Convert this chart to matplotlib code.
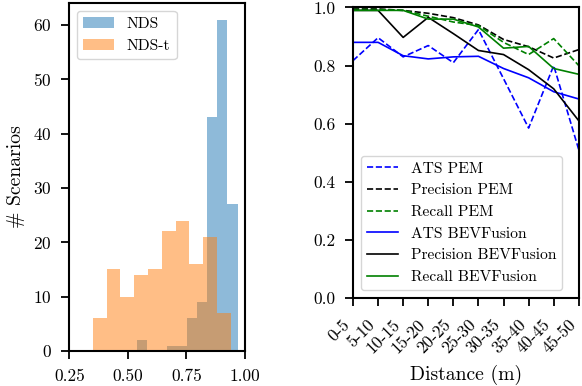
import numpy as np
import matplotlib
matplotlib.use("Agg")
import matplotlib.pyplot as plt

plt.rcParams['font.family'] = 'serif'
plt.rcParams['font.serif'] = ['cmr10']
plt.rcParams['mathtext.fontset'] = 'cm'
plt.rcParams['axes.formatter.use_mathtext'] = True

# ---- histogram data ----
nds_range = (0.537, 0.968)
nds_counts = [2, 0, 0, 1, 1, 6, 9, 43, 61, 27]
ndst_range = (0.350, 0.940)
ndst_counts = [6, 15, 10, 14, 15, 22, 24, 16, 21, 7]

# ---- distance data ----
dist_labels = ["0-5", "5-10", "10-15", "15-20", "20-25", "25-30",
               "30-35", "35-40", "40-45", "45-50"]
ats_pem = [0.817, 0.896, 0.83, 0.869, 0.81, 0.924, 0.755, 0.585, 0.80, 0.51]
prec_pem = [0.995, 0.995, 0.99, 0.98, 0.965, 0.94, 0.89, 0.865, 0.826, 0.855]
rec_pem = [0.993, 0.993, 0.99, 0.97, 0.95, 0.938, 0.88, 0.838, 0.893, 0.80]
ats_bev = [0.88, 0.88, 0.834, 0.823, 0.83, 0.832, 0.79, 0.758, 0.71, 0.685]
prec_bev = [0.99, 0.99, 0.897, 0.966, 0.91, 0.852, 0.838, 0.786, 0.72, 0.61]
rec_bev = [0.99, 0.99, 0.99, 0.96, 0.96, 0.933, 0.86, 0.866, 0.79, 0.77]

fig = plt.figure(figsize=(5.82, 3.86), dpi=100)
ax1 = fig.add_axes([0.119, 0.0907, 0.302, 0.9016])
ax2 = fig.add_axes([0.6065, 0.228, 0.388, 0.7526])

tick_fs = 12.5
label_fs = 14.2
leg_fs = 11.2

# histogram
nds_edges = np.linspace(nds_range[0], nds_range[1], len(nds_counts) + 1)
ndst_edges = np.linspace(ndst_range[0], ndst_range[1], len(ndst_counts) + 1)
ax1.hist(nds_edges[:-1], bins=nds_edges, weights=nds_counts,
         color='tab:blue', alpha=0.5, label='NDS')
ax1.hist(ndst_edges[:-1], bins=ndst_edges, weights=ndst_counts,
         color='tab:orange', alpha=0.5, label='NDS-t')
ax1.set_xlim(0.25, 1.0)
ax1.set_xticks([0.25, 0.5, 0.75, 1.0])
ax1.set_xticklabels(["0.25", "0.50", "0.75", "1.00"])
ax1.set_yticks([0, 10, 20, 30, 40, 50, 60])
ax1.set_ylabel('# Scenarios', fontsize=label_fs, labelpad=6)
ax1.legend(loc='upper left', fontsize=leg_fs)

# line chart
x = np.arange(len(dist_labels))
lw = 1.2
ax2.plot(x, ats_pem, '--', color='blue', lw=lw, label='ATS PEM')
ax2.plot(x, prec_pem, '--', color='black', lw=lw, label='Precision PEM')
ax2.plot(x, rec_pem, '--', color='green', lw=lw, label='Recall PEM')
ax2.plot(x, ats_bev, '-', color='blue', lw=lw, label='ATS BEVFusion')
ax2.plot(x, prec_bev, '-', color='black', lw=lw, label='Precision BEVFusion')
ax2.plot(x, rec_bev, '-', color='green', lw=lw, label='Recall BEVFusion')
ax2.set_xlim(0, len(dist_labels) - 1)
ax2.set_ylim(0, 1.0)
ax2.set_yticks([0.0, 0.2, 0.4, 0.6, 0.8, 1.0])
ax2.set_yticklabels(["0.0", "0.2", "0.4", "0.6", "0.8", "1.0"])
ax2.set_xticks(x)
ax2.set_xticklabels(dist_labels)
ax2.set_xlabel('Distance (m)', fontsize=label_fs, labelpad=6)
ax2.legend(loc='lower left', fontsize=leg_fs, bbox_to_anchor=(0.0, 0.0))

for ax in (ax1, ax2):
    for s in ax.spines.values():
        s.set_linewidth(1.5)
    ax.tick_params(labelsize=tick_fs, length=5.5, width=1.3, pad=7)

ax2.tick_params(axis='x', pad=8)
plt.setp(ax2.get_xticklabels(), rotation=45, ha='right', rotation_mode='default')

fig.savefig('out.png', dpi=100)
